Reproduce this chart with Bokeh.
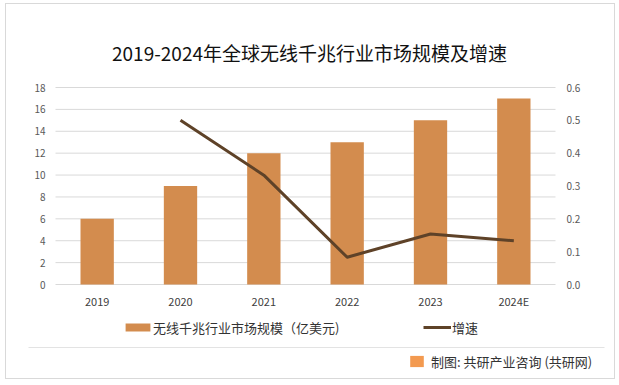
from bokeh.plotting import figure
from bokeh.models import (Range1d, LinearAxis, Legend, LegendItem, Label, BoxAnnotation,
                          FixedTicker, NumeralTickFormatter, ColumnDataSource)
from bokeh.embed import file_html
from bokeh.resources import INLINE

# ---- data ----
years = ["2019", "2020", "2021", "2022", "2023", "2024E"]
market_size = [6, 9, 12, 13, 15, 17]
growth_years = ["2020", "2021", "2022", "2023", "2024E"]
growth_rate = [0.5, 0.333, 0.083, 0.154, 0.133]
left_ticks = [0, 2, 4, 6, 8, 10, 12, 14, 16, 18]
right_ticks = [0.0, 0.1, 0.2, 0.3, 0.4, 0.5, 0.6]
left_max = 18
right_max = 0.6

title_text = "2019-2024年全球无线千兆行业市场规模及增速"
bar_label = "无线千兆行业市场规模（亿美元)"
line_label = "增速"
source_text = "制图: 共研产业咨询 (共研网)"

FONT = "Noto Sans CJK SC"
BAR_COLOR = "#D38C4E"
LINE_COLOR = "#5E4228"
LOGO_COLOR = "#F39A50"
GRID = "#D9D9D9"

# ---- page geometry (pixels) ----
PX0, PX1, PY0, PY1 = 6, 616, 4, 380      # canvas inside the 1px border
FL, FR, FT, FB = 55, 555, 87, 284        # plot area
W, H = PX1 - PX0, PY1 - PY0

n = len(years)
x_pos = list(range(n))
growth_pos = [years.index(y) for y in growth_years]

xu = (FR - FL) / n
x_start = -0.5 - (FL - PX0) / xu
x_end = n - 0.5 + (PX1 - FR) / xu
yu = (FB - FT) / left_max
y_start = -(PY1 - FB) / yu
y_end = left_max + (FT - PY0) / yu
k = right_max / left_max

p = figure(width=W, height=H, x_range=Range1d(x_start, x_end),
           y_range=Range1d(y_start, y_end), output_backend="svg", toolbar_location=None,
           min_border=0)
p.styles = {"border": "1px solid #D9D9D9", "margin-left": "5px", "margin-top": "3px"}
p.outline_line_color = None
p.background_fill_color = "white"
p.border_fill_color = "white"
p.extra_y_ranges = {"rate": Range1d(y_start * k, y_end * k)}
p.grid.visible = False

# horizontal grid lines over the plot area
gsrc = ColumnDataSource(dict(x0=[-0.5] * len(left_ticks), x1=[n - 0.5] * len(left_ticks),
                             y=left_ticks))
p.segment(x0="x0", x1="x1", y0="y", y1="y", source=gsrc, line_color=GRID, line_width=1)

src = ColumnDataSource(dict(x=x_pos, top=market_size))
bar_r = p.vbar(x="x", top="top", width=0.4, source=src, fill_color=BAR_COLOR, line_color=None)
line_src = ColumnDataSource(dict(x=growth_pos, y=growth_rate))
line_r = p.line(x="x", y="y", source=line_src, y_range_name="rate", line_width=3,
                line_color=LINE_COLOR, line_join="round")
# hidden renderer only used as the logo swatch of the source note
logo_r = p.vbar(x=x_pos[:1], top=market_size[:1], width=0.4, fill_color=LOGO_COLOR,
                line_color=None, visible=False)


def style_axis(ax, size, color, standoff):
    ax.axis_line_color = None
    ax.major_tick_line_color = None
    ax.minor_tick_line_color = None
    ax.major_tick_out = 0
    ax.major_tick_in = 0
    ax.minor_tick_out = 0
    ax.minor_tick_in = 0
    ax.major_label_text_font = FONT
    ax.major_label_text_font_size = size
    ax.major_label_text_color = color
    ax.major_label_standoff = standoff


yax = p.yaxis[0]
yax.ticker = FixedTicker(ticks=left_ticks)
yax.fixed_location = -0.5
style_axis(yax, "10px", "#595959", 10)

xax = p.xaxis[0]
xax.ticker = FixedTicker(ticks=x_pos)
xax.major_label_overrides = {i: y for i, y in zip(x_pos, years)}
xax.fixed_location = 0
style_axis(xax, "11px", "#404040", 8)

rax = LinearAxis(y_range_name="rate", ticker=FixedTicker(ticks=right_ticks),
                 formatter=NumeralTickFormatter(format="0.0"))
rax.fixed_location = n - 0.5
style_axis(rax, "10px", "#595959", 11)
p.add_layout(rax, "right")


def sx(px):
    return px - PX0


def sy(py):
    return PY1 - py


# title
p.add_layout(Label(x=sx(309), y=sy(52), x_units="screen", y_units="screen", text=title_text,
                   text_align="center", text_baseline="middle", text_font=FONT,
                   text_font_size="19px", text_color="#111111"))


def make_legend(item, x, y, gw, gh, standoff):
    return Legend(items=[item], location=(x, y), orientation="horizontal",
                  glyph_width=gw, glyph_height=gh, label_standoff=standoff, padding=0,
                  margin=0, spacing=0, border_line_color=None, background_fill_alpha=0,
                  label_text_font=FONT, label_text_font_size="13px",
                  label_text_color="#333333", label_height=20)


p.add_layout(make_legend(LegendItem(label=bar_label, renderers=[bar_r]),
                         sx(122), sy(337), 31, 10, 0))
p.add_layout(make_legend(LegendItem(label=line_label, renderers=[line_r]),
                         sx(423), sy(337), 28, 10, 1))

# separator rule
p.add_layout(BoxAnnotation(left=sx(28), right=sx(604), bottom=sy(347.5), top=sy(346.5),
                           left_units="screen", right_units="screen",
                           bottom_units="screen", top_units="screen",
                           fill_color="#E3E3E3", fill_alpha=1, line_color=None))

# source note with logo
p.add_layout(make_legend(LegendItem(label=source_text, renderers=[logo_r]),
                         sx(408), sy(371), 17, 14, 6))
p.add_layout(Label(x=sx(417), y=sy(361), x_units="screen", y_units="screen", text="G",
                   text_align="center", text_baseline="middle", text_font=FONT,
                   text_font_size="9px", text_font_style="bold", text_color="white"))

open("out.html", "w").write(file_html(p, INLINE))
